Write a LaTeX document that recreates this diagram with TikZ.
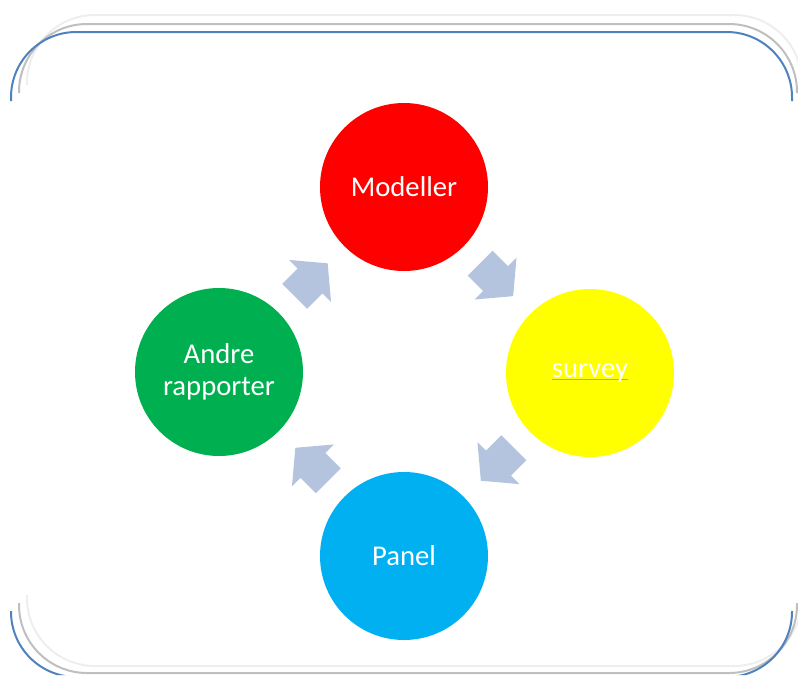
\documentclass[tikz,border=0pt]{standalone}
\usepackage{fontspec}
\setmainfont{Carlito}
\usepackage{xcolor}
\usepackage{tikz}
\usetikzlibrary{positioning,calc,shapes.arrows}

\definecolor{frameblue}{RGB}{79,129,189}
\definecolor{framegray}{RGB}{191,191,191}
\definecolor{framelight}{RGB}{238,238,238}
\definecolor{arrowblue}{RGB}{180,195,222}
\definecolor{modred}{RGB}{255,0,0}
\definecolor{survyellow}{RGB}{255,255,0}
\definecolor{andregreen}{RGB}{0,176,80}
\definecolor{panelblue}{RGB}{0,176,240}
\definecolor{spellred}{RGB}{240,140,110}

\newcommand{\spellmark}[1]{\sbox0{#1}\rlap{\textcolor{spellred}{\rule[-2pt]{\wd0}{1pt}}}\usebox0}

\begin{document}
\begin{tikzpicture}[
    x=0.75pt, y=-0.75pt,
    font=\fontsize{21.5}{24}\selectfont,
    bubble/.style={circle, minimum size=126pt, inner sep=0pt, text=white, align=center},
    blockarr/.style={single arrow, fill=arrowblue, draw=none, minimum height=35pt,
        inner xsep=0pt, inner ysep=13pt, single arrow head extend=9pt, single arrow tip angle=100},
    frame/.style={line width=1.5pt, rounded corners=51pt},
]
\useasboundingbox (0,0) rectangle (798,675);
\clip (0,0) rectangle (798,675);

% bracket frame
\begin{scope}
\clip (0,0) rectangle (798,85) (0,595) rectangle (798,675);
\draw[frame, framelight] (27,15) rectangle (802,666);
\end{scope}
\begin{scope}
\clip (0,0) rectangle (798,93) (0,603) rectangle (798,675);
\draw[frame, framegray] (19,24) rectangle (797,673);
\end{scope}
\begin{scope}
\clip (0,0) rectangle (798,101) (0,611) rectangle (798,675);
\draw[frame, frameblue, rounded corners=49pt] (11,32) rectangle (792,677);
\end{scope}

% cycle
\node[bubble, fill=modred] (model) at (404,187) {Modeller};
\node[bubble, fill=survyellow] (survey) at (590,373) {\spellmark{survey}};
\node[bubble, fill=panelblue] (panel) at (404,556) {Panel};
\node[bubble, fill=andregreen] (andre) at (219,372) {Andre\\rapporter};

\node[blockarr, rotate=45] (a1) at ($(andre)!0.47!(model)$) {};
\node[blockarr, rotate=-45] (a2) at ($(model)!0.47!(survey)$) {};
\node[blockarr, rotate=-135] (a3) at ($(survey)!0.47!(panel)$) {};
\node[blockarr, rotate=135] (a4) at ($(panel)!0.47!(andre)$) {};
\end{tikzpicture}
\end{document}
